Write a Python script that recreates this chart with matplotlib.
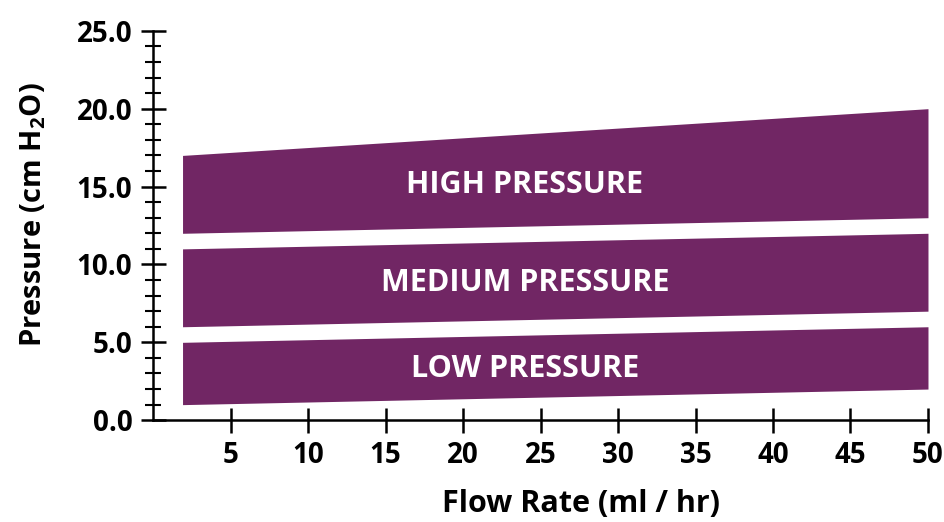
import matplotlib
matplotlib.use("Agg")
import matplotlib.pyplot as plt
from matplotlib.ticker import MultipleLocator, FormatStrFormatter

plt.rcParams['font.family'] = ['Open Sans', 'DejaVu Sans']
plt.rcParams['font.weight'] = 'bold'
plt.rcParams['mathtext.fontset'] = 'custom'
plt.rcParams['mathtext.rm'] = 'Open Sans:bold'
plt.rcParams['mathtext.it'] = 'Open Sans:bold'
plt.rcParams['mathtext.bf'] = 'Open Sans:bold'

# flow rate end points of the bands
flow = [1.9, 50]

# pressure bands (lower edge, upper edge) at each flow end point
bands = ['HIGH PRESSURE', 'MEDIUM PRESSURE', 'LOW PRESSURE']
band_low = [[12, 13], [6, 7], [1, 2]]
band_high = [[17, 20], [11, 12], [5, 6]]
label_x = [24, 24, 24]
label_y = [15.1, 8.8, 3.3]

purple = '#712664'

fig = plt.figure(figsize=(9.45, 5.22), dpi=100)
ax = fig.add_axes([0.162, 0.195, 0.82, 0.746])

for name, lo, hi, tx, ty in zip(bands, band_low, band_high, label_x, label_y):
    ax.fill_between(flow, lo, hi, color=purple, linewidth=0)
    ax.text(tx, ty, name, color='white', fontsize=22, fontweight='bold',
            ha='center', va='center')

ax.set_xlim(0, 50)
ax.set_ylim(0, 25)
ax.set_xticks(range(5, 51, 5))
ax.yaxis.set_major_locator(MultipleLocator(5))
ax.yaxis.set_minor_locator(MultipleLocator(1))
ax.yaxis.set_major_formatter(FormatStrFormatter('%.1f'))

ax.spines['top'].set_visible(False)
ax.spines['right'].set_visible(False)
ax.spines['left'].set_linewidth(1.8)
ax.spines['bottom'].set_linewidth(1.8)
ax.tick_params(axis='both', which='major', direction='inout', length=18, width=1.8,
               labelsize=20)
ax.tick_params(axis='y', which='minor', direction='inout', length=11, width=1.5)
ax.tick_params(axis='x', pad=6)
ax.tick_params(axis='y', pad=6)

ax.set_xlabel('Flow Rate (ml / hr)', fontsize=22, fontweight='bold')
ax.set_ylabel('Pressure (cm H$_2$O)', fontsize=21, fontweight='bold')
ax.xaxis.set_label_coords(0.552, -0.177)
ax.yaxis.set_label_coords(-0.135, 0.528)

fig.savefig('out.png', dpi=100)
